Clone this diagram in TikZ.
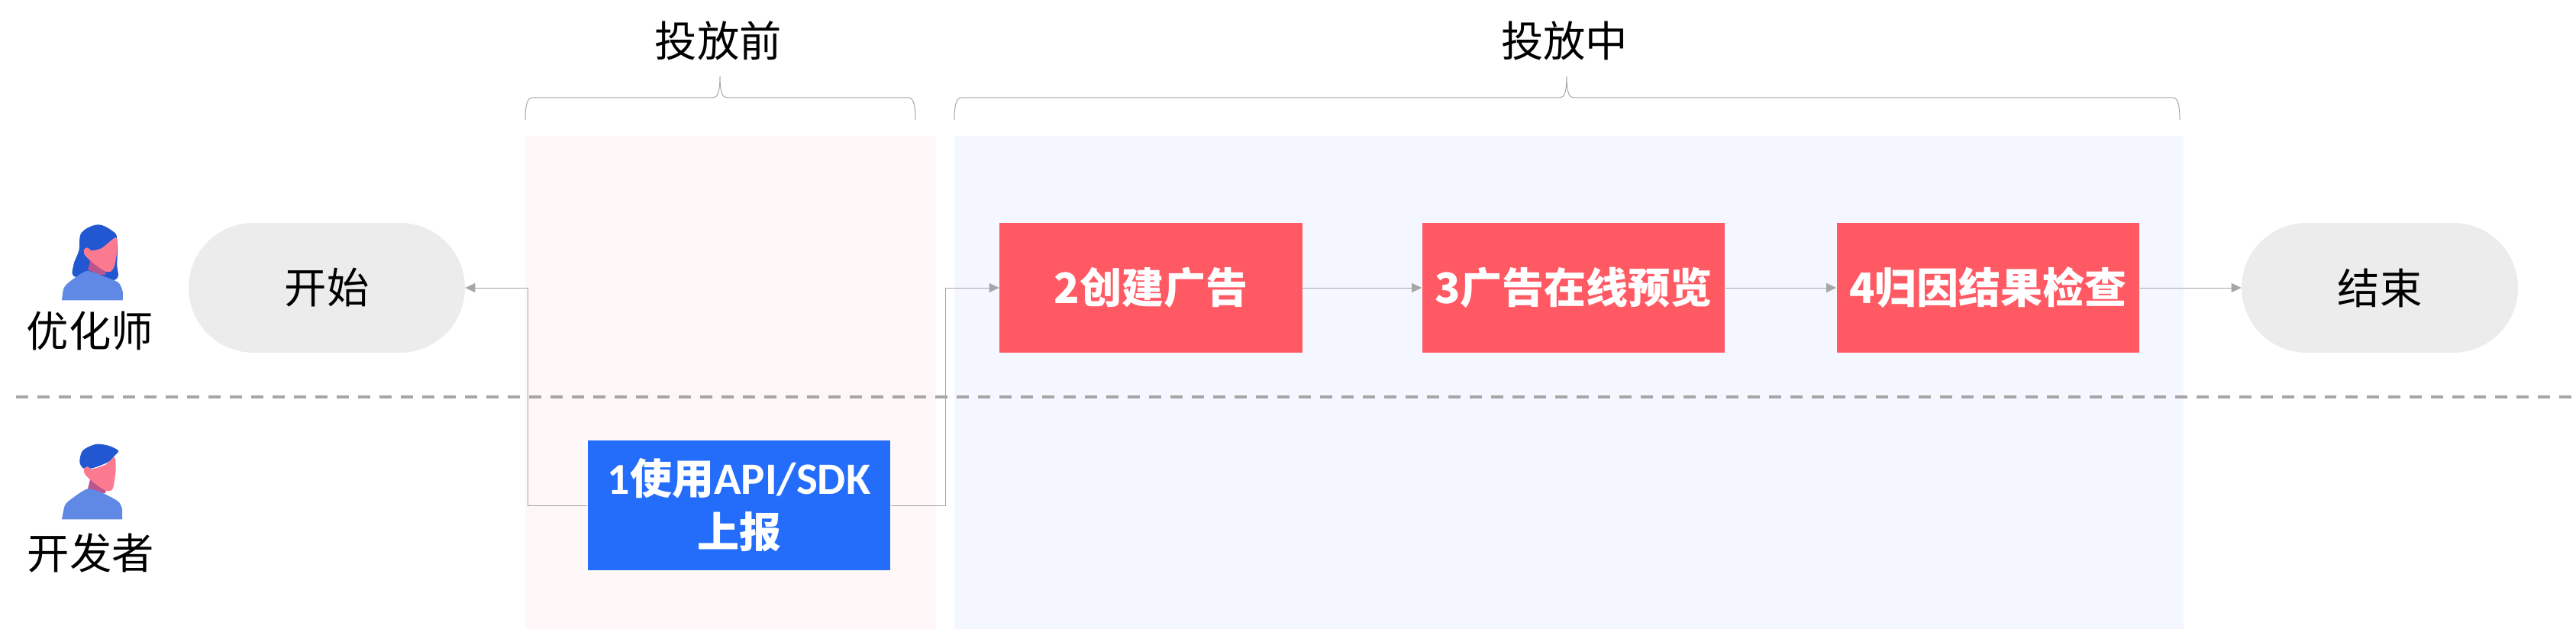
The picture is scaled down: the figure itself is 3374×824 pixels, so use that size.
\documentclass[tikz,border=0pt]{standalone}
\usepackage{fontspec}
\setmainfont{Noto Sans CJK SC}
\newfontfamily\narrowlatin{Carlito}
\usetikzlibrary{arrows.meta,positioning}
\definecolor{linegray}{HTML}{A6A6A6}
\definecolor{pillgray}{HTML}{ECECEC}
\definecolor{stepred}{HTML}{FF5964}
\definecolor{stepblue}{HTML}{246DFB}
\definecolor{panelpink}{HTML}{FFF7F7}
\definecolor{panelblue}{HTML}{F4F7FF}
\definecolor{hairblue}{HTML}{2157D0}
\definecolor{shirtblue}{HTML}{6089E6}
\definecolor{facepink}{HTML}{FB7A90}
\definecolor{neckpurple}{HTML}{B9558F}
\tikzset{
	txt/.style={font=\fontsize{31.5}{38}\selectfont, inner sep=0pt, text=black},
	pill/.style={txt, fill=pillgray, rounded corners=1.699cm, minimum width=7.24cm, minimum height=3.4cm},
	stepbox/.style={font=\fontsize{31.3}{40}\bfseries\selectfont, text=white, align=center, inner sep=0pt, minimum width=7.94cm, minimum height=3.4cm},
	conn/.style={draw=linegray, line width=.02cm, -{Triangle[length=.26cm,width=.24cm]}},
	plainconn/.style={draw=linegray, line width=.02cm}
}
\begin{document}
\begin{tikzpicture}[y=-.02cm, x=.02cm]
\useasboundingbox (0,0) rectangle (3374,824);
%panels
\fill[panelpink] (688,178) rectangle (1226,824);
\fill[panelblue] (1250,178) rectangle (2860,824);
%lane separator
\draw[linegray, line width=.08cm, dash pattern=on .32cm off .24cm] (21,520) -- (3374,520);
%braces
\foreach \l/\m/\r in {688/943/1199,1250/2052/2855}
\draw[plainconn] (\l,157) .. controls (\l,140) and (\l+2,128) .. (\l+9,128)
-- (\m-9,128) .. controls (\m-3,128) and (\m,120) .. (\m,100)
.. controls (\m,120) and (\m+3,128) .. (\m+9,128)
-- (\r-9,128) .. controls (\r-2,128) and (\r,140) .. (\r,157);
%woman
\fill[hairblue] plot[smooth cycle, tension=.6] coordinates{(128.3,294.3) (148.3,303.3) (153.3,313.3)
			(153.3,345) (150,366.7) (100,363.3) (96,348.3) (103.3,328.3) (106.7,305)};
\fill[neckpurple] plot coordinates{(118.3,341.7) (115,353.3) (130,360) (138.3,360) (138.3,350)};
\fill[shirtblue] plot[smooth, tension=.4] coordinates{(81,393.3) (83.3,378.3) (90,370) (113.3,355)
			(136.7,362.3) (155,370) (160.7,381.7) (160.7,393.3)} -- cycle;
\fill[facepink] plot[smooth cycle, tension=.4] coordinates{(110,326.7) (115,324.3) (120,328.3) (133.3,325)
			(151.7,311) (153.3,328.3) (150,348.3) (145,355.7) (138.3,355.7) (126.7,348.3) (116.7,340) (110.7,333.3)};
%man
\fill[neckpurple] plot coordinates{(118.3,627) (115,640.3) (130,647) (138.3,646) (138.3,638)};
\fill[shirtblue] plot[smooth, tension=.4] coordinates{(81,680.3) (85,662) (93.3,653.7) (115,640.3)
			(136.7,647) (155,657) (160,667) (160,680.3)} -- cycle;
\fill[hairblue] plot[smooth cycle, tension=.5] coordinates{(125,582) (141.7,583.7) (155,590.3) (150,597)
			(141.7,605.3) (120,613.7) (115,611.3) (109.3,613.7) (104.3,605.3) (108.3,590.3)};
\fill[facepink] plot[smooth cycle, tension=.4] coordinates{(110,613.7) (115,611.3) (120,614.7) (138.3,608.7)
			(150,598.7) (151.7,615.3) (148.3,638.7) (145,642.7) (138.3,642.7) (126.7,635.3) (116.7,627) (110.7,620.3)};
%labels
\node[txt] (before) at (941,53) {投放前};
\node[txt] (during) at (2049,53) {投放中};
\node[txt] (optimizer) at (118,433) {优化师};
\node[txt] (developer) at (119,724) {开发者};
%boxes
\node[pill] (start) at (428,377) {开始};
\node[stepbox, fill=stepblue] (report) at (968,662) {\raisebox{-3pt}{{\narrowlatin\fontsize{33}{40}\selectfont 1}使用{\narrowlatin\fontsize{33.5}{40}\selectfont API/SDK}}\\\raisebox{-3pt}{上报}};
\node[stepbox, fill=stepred] (create) at (1507.5,377) {2创建广告};
\node[stepbox, fill=stepred] (preview) at (2061,377) {3广告在线预览};
\node[stepbox, fill=stepred] (check) at (2604,377) {4归因结果检查};
\node[pill] (finish) at (3117,377) {结束};
%connectors
\draw[conn] (report.west) -- (691,662) -- (691,377) -- (start.east);
\draw[conn] (report.east) -- (1238,662) -- (1238,377) -- (create.west);
\draw[conn] (create) -- (preview);
\draw[conn] (preview) -- (check);
\draw[conn] (check) -- (finish);
\end{tikzpicture}
\end{document}
